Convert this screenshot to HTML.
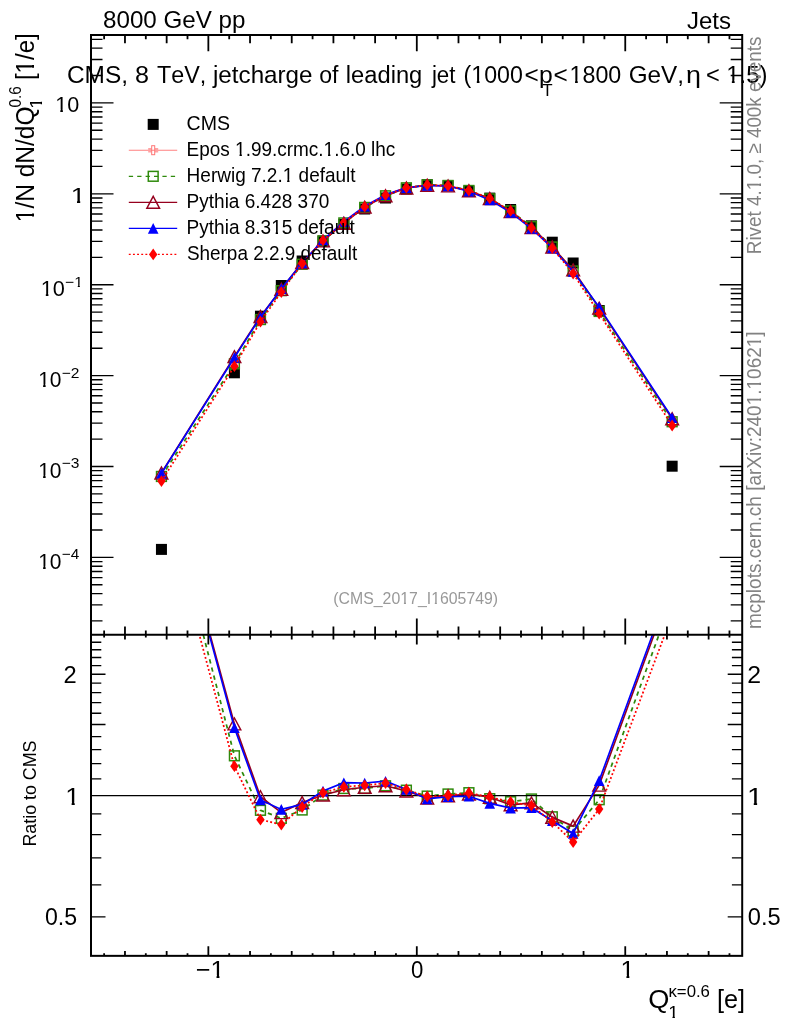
<!DOCTYPE html>
<html><head><meta charset="utf-8"><title>plot</title><style>html,body{margin:0;padding:0;background:#fff}svg{display:block;will-change:transform}text{font-kerning:none}</style></head><body>
<svg width="786" height="1024" viewBox="0 0 786 1024" font-family="'Liberation Sans', sans-serif">
<rect width="786" height="1024" fill="#fff"/>
<defs><clipPath id="cm"><rect x="91" y="35" width="651.2" height="599.8"/></clipPath><clipPath id="cr"><rect x="91" y="634.8" width="651.2" height="321.05"/></clipPath><clipPath id="k0"><path d="M-1 -24.4H24.4V-2.83H8.62V2H5.77V-2.83H-1Z"/></clipPath><clipPath id="k1"><path d="M-1 -19.5H19.5V-2.46H6.96V2H4.54V-2.46H-1Z"/></clipPath><clipPath id="k2"><path d="M-1 -22H22V-2.65H7.81V2H5.17V-2.65H-1Z"/></clipPath><clipPath id="k3"><path d="M-1 -14.7H14.7V-2.1H5.33V2H3.34V-2.1H-1Z"/></clipPath><clipPath id="k4"><path d="M-1 -23.6H23.6V-2.77H8.35V2H5.57V-2.77H-1Z"/></clipPath><clipPath id="k5"><path d="M-1 -24.5H24.5V-2.84H8.66V2H5.8V-2.84H-1Z"/></clipPath><clipPath id="k6"><path d="M-1 -16.2H16.2V-2.21H5.84V2H3.72V-2.21H-1Z"/></clipPath><clipPath id="k7"><path d="M-1 -20.2H20.2V-2.51H7.2V2H4.72V-2.51H-1Z"/></clipPath><clipPath id="k8"><path d="M-1 -25.6H25.6V-2.92H9.03V2H6.08V-2.92H-1Z"/></clipPath><clipPath id="k9"><path d="M-1 -15.6H15.6V-2.17H5.64V2H3.57V-2.17H-1Z"/></clipPath><clipPath id="k10"><path d="M-1 -16H16V-2.2H5.77V2H3.67V-2.2H-1Z"/></clipPath></defs>
<g clip-path="url(#cm)">
<rect x="155.95" y="543.9" width="11" height="11" fill="#000"/>
<rect x="228.91" y="367.3" width="11" height="11" fill="#000"/>
<rect x="254.96" y="310.7" width="11" height="11" fill="#000"/>
<rect x="275.81" y="280" width="11" height="11" fill="#000"/>
<rect x="296.65" y="255.5" width="11" height="11" fill="#000"/>
<rect x="317.5" y="235.5" width="11" height="11" fill="#000"/>
<rect x="338.34" y="219" width="11" height="11" fill="#000"/>
<rect x="359.19" y="203.5" width="11" height="11" fill="#000"/>
<rect x="380.03" y="192.5" width="11" height="11" fill="#000"/>
<rect x="400.88" y="183.5" width="11" height="11" fill="#000"/>
<rect x="421.72" y="179.2" width="11" height="11" fill="#000"/>
<rect x="442.57" y="180.3" width="11" height="11" fill="#000"/>
<rect x="463.41" y="185.6" width="11" height="11" fill="#000"/>
<rect x="484.26" y="192.6" width="11" height="11" fill="#000"/>
<rect x="505.1" y="204" width="11" height="11" fill="#000"/>
<rect x="525.95" y="220.3" width="11" height="11" fill="#000"/>
<rect x="546.79" y="236.7" width="11" height="11" fill="#000"/>
<rect x="567.64" y="257.5" width="11" height="11" fill="#000"/>
<rect x="593.69" y="305" width="11" height="11" fill="#000"/>
<rect x="666.65" y="460.7" width="11" height="11" fill="#000"/>
<path d="M161.45 476.47L234.41 363.84L260.46 319.54L281.31 290.64L302.15 264.27L323 240.91L343.84 222.92L364.69 207.42L385.53 195.81L406.38 187.8L427.22 184.84L448.07 185.46L468.91 190.47L489.76 198.82L510.6 210.9L531.45 226.59L552.29 247L573.14 271.01L599.19 311.45L672.15 421.74" fill="none" stroke="#2f8a0c" stroke-width="1.75" stroke-dasharray="4.3 4.1"/>
<rect x="156.55" y="471.57" width="9.8" height="9.8" fill="none" stroke="#2f8a0c" stroke-width="1.5"/>
<rect x="229.51" y="358.94" width="9.8" height="9.8" fill="none" stroke="#2f8a0c" stroke-width="1.5"/>
<rect x="255.56" y="314.64" width="9.8" height="9.8" fill="none" stroke="#2f8a0c" stroke-width="1.5"/>
<rect x="276.41" y="285.74" width="9.8" height="9.8" fill="none" stroke="#2f8a0c" stroke-width="1.5"/>
<rect x="297.25" y="259.37" width="9.8" height="9.8" fill="none" stroke="#2f8a0c" stroke-width="1.5"/>
<rect x="318.1" y="236.01" width="9.8" height="9.8" fill="none" stroke="#2f8a0c" stroke-width="1.5"/>
<rect x="338.94" y="218.02" width="9.8" height="9.8" fill="none" stroke="#2f8a0c" stroke-width="1.5"/>
<rect x="359.79" y="202.52" width="9.8" height="9.8" fill="none" stroke="#2f8a0c" stroke-width="1.5"/>
<rect x="380.63" y="190.91" width="9.8" height="9.8" fill="none" stroke="#2f8a0c" stroke-width="1.5"/>
<rect x="401.48" y="182.9" width="9.8" height="9.8" fill="none" stroke="#2f8a0c" stroke-width="1.5"/>
<rect x="422.32" y="179.94" width="9.8" height="9.8" fill="none" stroke="#2f8a0c" stroke-width="1.5"/>
<rect x="443.17" y="180.56" width="9.8" height="9.8" fill="none" stroke="#2f8a0c" stroke-width="1.5"/>
<rect x="464.01" y="185.57" width="9.8" height="9.8" fill="none" stroke="#2f8a0c" stroke-width="1.5"/>
<rect x="484.86" y="193.92" width="9.8" height="9.8" fill="none" stroke="#2f8a0c" stroke-width="1.5"/>
<rect x="505.7" y="206" width="9.8" height="9.8" fill="none" stroke="#2f8a0c" stroke-width="1.5"/>
<rect x="526.55" y="221.69" width="9.8" height="9.8" fill="none" stroke="#2f8a0c" stroke-width="1.5"/>
<rect x="547.39" y="242.1" width="9.8" height="9.8" fill="none" stroke="#2f8a0c" stroke-width="1.5"/>
<rect x="568.24" y="266.11" width="9.8" height="9.8" fill="none" stroke="#2f8a0c" stroke-width="1.5"/>
<rect x="594.29" y="306.55" width="9.8" height="9.8" fill="none" stroke="#2f8a0c" stroke-width="1.5"/>
<rect x="667.25" y="416.84" width="9.8" height="9.8" fill="none" stroke="#2f8a0c" stroke-width="1.5"/>
<path d="M161.45 472.95L234.41 356.65L260.46 316.47L281.31 289.36L302.15 262.6L323 240.89L343.84 223.21L364.69 207.15L385.53 195.81L406.38 187.98L427.22 185.29L448.07 185.87L468.91 190.76L489.76 198.51L510.6 211.6L531.45 227.47L552.29 247.1L573.14 269.9L599.19 308.15L672.15 418.71" fill="none" stroke="#96001e" stroke-width="1.65"/>
<path d="M155.05 478.95L161.45 466.95L167.85 478.95Z" fill="none" stroke="#96001e" stroke-width="1.4"/>
<path d="M228.01 362.65L234.41 350.65L240.81 362.65Z" fill="none" stroke="#96001e" stroke-width="1.4"/>
<path d="M254.06 322.47L260.46 310.47L266.86 322.47Z" fill="none" stroke="#96001e" stroke-width="1.4"/>
<path d="M274.91 295.36L281.31 283.36L287.71 295.36Z" fill="none" stroke="#96001e" stroke-width="1.4"/>
<path d="M295.75 268.6L302.15 256.6L308.55 268.6Z" fill="none" stroke="#96001e" stroke-width="1.4"/>
<path d="M316.6 246.89L323 234.89L329.4 246.89Z" fill="none" stroke="#96001e" stroke-width="1.4"/>
<path d="M337.44 229.21L343.84 217.21L350.24 229.21Z" fill="none" stroke="#96001e" stroke-width="1.4"/>
<path d="M358.29 213.15L364.69 201.15L371.09 213.15Z" fill="none" stroke="#96001e" stroke-width="1.4"/>
<path d="M379.13 201.81L385.53 189.81L391.93 201.81Z" fill="none" stroke="#96001e" stroke-width="1.4"/>
<path d="M399.98 193.98L406.38 181.98L412.78 193.98Z" fill="none" stroke="#96001e" stroke-width="1.4"/>
<path d="M420.82 191.29L427.22 179.29L433.62 191.29Z" fill="none" stroke="#96001e" stroke-width="1.4"/>
<path d="M441.67 191.87L448.07 179.87L454.47 191.87Z" fill="none" stroke="#96001e" stroke-width="1.4"/>
<path d="M462.51 196.76L468.91 184.76L475.31 196.76Z" fill="none" stroke="#96001e" stroke-width="1.4"/>
<path d="M483.36 204.51L489.76 192.51L496.16 204.51Z" fill="none" stroke="#96001e" stroke-width="1.4"/>
<path d="M504.2 217.6L510.6 205.6L517 217.6Z" fill="none" stroke="#96001e" stroke-width="1.4"/>
<path d="M525.05 233.47L531.45 221.47L537.85 233.47Z" fill="none" stroke="#96001e" stroke-width="1.4"/>
<path d="M545.89 253.1L552.29 241.1L558.69 253.1Z" fill="none" stroke="#96001e" stroke-width="1.4"/>
<path d="M566.74 275.9L573.14 263.9L579.54 275.9Z" fill="none" stroke="#96001e" stroke-width="1.4"/>
<path d="M592.79 314.15L599.19 302.15L605.59 314.15Z" fill="none" stroke="#96001e" stroke-width="1.4"/>
<path d="M665.75 424.71L672.15 412.71L678.55 424.71Z" fill="none" stroke="#96001e" stroke-width="1.4"/>
<path d="M161.45 473.2L234.41 357.53L260.46 317.19L281.31 288.64L302.15 263.01L323 240.01L343.84 221.61L364.69 206.18L385.53 194.77L406.38 187.65L427.22 185.47L448.07 186.05L468.91 191.28L489.76 199.88L510.6 212.34L531.45 228.55L552.29 247.88L573.14 271.57L599.19 307.14L672.15 417.79" fill="none" stroke="#0000ff" stroke-width="1.65"/>
<path d="M156.15 478.5L161.45 467.9L166.75 478.5Z" fill="#0000ff"/>
<path d="M229.11 362.83L234.41 352.23L239.71 362.83Z" fill="#0000ff"/>
<path d="M255.16 322.49L260.46 311.89L265.76 322.49Z" fill="#0000ff"/>
<path d="M276.01 293.94L281.31 283.34L286.61 293.94Z" fill="#0000ff"/>
<path d="M296.85 268.31L302.15 257.71L307.45 268.31Z" fill="#0000ff"/>
<path d="M317.7 245.31L323 234.71L328.3 245.31Z" fill="#0000ff"/>
<path d="M338.54 226.91L343.84 216.31L349.14 226.91Z" fill="#0000ff"/>
<path d="M359.39 211.48L364.69 200.88L369.99 211.48Z" fill="#0000ff"/>
<path d="M380.23 200.07L385.53 189.47L390.83 200.07Z" fill="#0000ff"/>
<path d="M401.08 192.95L406.38 182.35L411.68 192.95Z" fill="#0000ff"/>
<path d="M421.92 190.77L427.22 180.17L432.52 190.77Z" fill="#0000ff"/>
<path d="M442.77 191.35L448.07 180.75L453.37 191.35Z" fill="#0000ff"/>
<path d="M463.61 196.58L468.91 185.98L474.21 196.58Z" fill="#0000ff"/>
<path d="M484.46 205.18L489.76 194.58L495.06 205.18Z" fill="#0000ff"/>
<path d="M505.3 217.64L510.6 207.04L515.9 217.64Z" fill="#0000ff"/>
<path d="M526.15 233.85L531.45 223.25L536.75 233.85Z" fill="#0000ff"/>
<path d="M546.99 253.18L552.29 242.58L557.59 253.18Z" fill="#0000ff"/>
<path d="M567.84 276.87L573.14 266.27L578.44 276.87Z" fill="#0000ff"/>
<path d="M593.89 312.44L599.19 301.84L604.49 312.44Z" fill="#0000ff"/>
<path d="M666.85 423.09L672.15 412.49L677.45 423.09Z" fill="#0000ff"/>
<path d="M161.45 481.05L234.41 366.19L260.46 321.66L281.31 292.04L302.15 263.59L323 240.37L343.84 222.56L364.69 206.7L385.53 195.2L406.38 187.65L427.22 184.95L448.07 185.8L468.91 190.54L489.76 198.44L510.6 210.97L531.45 228.08L552.29 248.18L573.14 273.51L599.19 313.57L672.15 425.5" fill="none" stroke="#ff0000" stroke-width="1.75" stroke-dasharray="1.9 2.25"/>
<path d="M157.25 481.05L161.45 475.15L165.65 481.05L161.45 486.95Z" fill="#ff0000"/>
<path d="M230.21 366.19L234.41 360.29L238.61 366.19L234.41 372.09Z" fill="#ff0000"/>
<path d="M256.26 321.66L260.46 315.76L264.66 321.66L260.46 327.56Z" fill="#ff0000"/>
<path d="M277.11 292.04L281.31 286.14L285.51 292.04L281.31 297.94Z" fill="#ff0000"/>
<path d="M297.95 263.59L302.15 257.69L306.35 263.59L302.15 269.49Z" fill="#ff0000"/>
<path d="M318.8 240.37L323 234.47L327.2 240.37L323 246.27Z" fill="#ff0000"/>
<path d="M339.64 222.56L343.84 216.66L348.04 222.56L343.84 228.46Z" fill="#ff0000"/>
<path d="M360.49 206.7L364.69 200.8L368.89 206.7L364.69 212.6Z" fill="#ff0000"/>
<path d="M381.33 195.2L385.53 189.3L389.73 195.2L385.53 201.1Z" fill="#ff0000"/>
<path d="M402.18 187.65L406.38 181.75L410.58 187.65L406.38 193.55Z" fill="#ff0000"/>
<path d="M423.02 184.95L427.22 179.05L431.42 184.95L427.22 190.85Z" fill="#ff0000"/>
<path d="M443.87 185.8L448.07 179.9L452.27 185.8L448.07 191.7Z" fill="#ff0000"/>
<path d="M464.71 190.54L468.91 184.64L473.11 190.54L468.91 196.44Z" fill="#ff0000"/>
<path d="M485.56 198.44L489.76 192.54L493.96 198.44L489.76 204.34Z" fill="#ff0000"/>
<path d="M506.4 210.97L510.6 205.07L514.8 210.97L510.6 216.87Z" fill="#ff0000"/>
<path d="M527.25 228.08L531.45 222.18L535.65 228.08L531.45 233.98Z" fill="#ff0000"/>
<path d="M548.09 248.18L552.29 242.28L556.49 248.18L552.29 254.08Z" fill="#ff0000"/>
<path d="M568.94 273.51L573.14 267.61L577.34 273.51L573.14 279.41Z" fill="#ff0000"/>
<path d="M594.99 313.57L599.19 307.67L603.39 313.57L599.19 319.47Z" fill="#ff0000"/>
<path d="M667.95 425.5L672.15 419.6L676.35 425.5L672.15 431.4Z" fill="#ff0000"/>
</g>
<g clip-path="url(#cr)">
<path d="M161.45 472.2L234.41 755.8L260.46 810.3L281.31 818.3L302.15 810L323 795.1L343.84 788.5L364.69 788.5L385.53 785.8L406.38 790.2L427.22 796.1L448.07 794L468.91 792.7L489.76 798.7L510.6 801.7L531.45 799L552.29 816.8L573.14 831L599.19 799.7L672.15 598.4" fill="none" stroke="#2f8a0c" stroke-width="1.75" stroke-dasharray="4.3 4.1"/>
<rect x="229.51" y="750.9" width="9.8" height="9.8" fill="none" stroke="#2f8a0c" stroke-width="1.5"/>
<rect x="255.56" y="805.4" width="9.8" height="9.8" fill="none" stroke="#2f8a0c" stroke-width="1.5"/>
<rect x="276.41" y="813.4" width="9.8" height="9.8" fill="none" stroke="#2f8a0c" stroke-width="1.5"/>
<rect x="297.25" y="805.1" width="9.8" height="9.8" fill="none" stroke="#2f8a0c" stroke-width="1.5"/>
<rect x="318.1" y="790.2" width="9.8" height="9.8" fill="none" stroke="#2f8a0c" stroke-width="1.5"/>
<rect x="338.94" y="783.6" width="9.8" height="9.8" fill="none" stroke="#2f8a0c" stroke-width="1.5"/>
<rect x="359.79" y="783.6" width="9.8" height="9.8" fill="none" stroke="#2f8a0c" stroke-width="1.5"/>
<rect x="380.63" y="780.9" width="9.8" height="9.8" fill="none" stroke="#2f8a0c" stroke-width="1.5"/>
<rect x="401.48" y="785.3" width="9.8" height="9.8" fill="none" stroke="#2f8a0c" stroke-width="1.5"/>
<rect x="422.32" y="791.2" width="9.8" height="9.8" fill="none" stroke="#2f8a0c" stroke-width="1.5"/>
<rect x="443.17" y="789.1" width="9.8" height="9.8" fill="none" stroke="#2f8a0c" stroke-width="1.5"/>
<rect x="464.01" y="787.8" width="9.8" height="9.8" fill="none" stroke="#2f8a0c" stroke-width="1.5"/>
<rect x="484.86" y="793.8" width="9.8" height="9.8" fill="none" stroke="#2f8a0c" stroke-width="1.5"/>
<rect x="505.7" y="796.8" width="9.8" height="9.8" fill="none" stroke="#2f8a0c" stroke-width="1.5"/>
<rect x="526.55" y="794.1" width="9.8" height="9.8" fill="none" stroke="#2f8a0c" stroke-width="1.5"/>
<rect x="547.39" y="811.9" width="9.8" height="9.8" fill="none" stroke="#2f8a0c" stroke-width="1.5"/>
<rect x="568.24" y="826.1" width="9.8" height="9.8" fill="none" stroke="#2f8a0c" stroke-width="1.5"/>
<rect x="594.29" y="794.8" width="9.8" height="9.8" fill="none" stroke="#2f8a0c" stroke-width="1.5"/>
<path d="M91 795.5H742.2" stroke="#000" stroke-width="1.25"/>
<path d="M161.45 456.6L234.41 723.9L260.46 796.7L281.31 812.6L302.15 802.6L323 795L343.84 789.8L364.69 787.3L385.53 785.8L406.38 791L427.22 798.1L448.07 795.8L468.91 794L489.76 797.3L510.6 804.8L531.45 802.9L552.29 817.2L573.14 826.1L599.19 785.1L672.15 585" fill="none" stroke="#96001e" stroke-width="1.65"/>
<path d="M228.01 729.9L234.41 717.9L240.81 729.9Z" fill="none" stroke="#96001e" stroke-width="1.4"/>
<path d="M254.06 802.7L260.46 790.7L266.86 802.7Z" fill="none" stroke="#96001e" stroke-width="1.4"/>
<path d="M274.91 818.6L281.31 806.6L287.71 818.6Z" fill="none" stroke="#96001e" stroke-width="1.4"/>
<path d="M295.75 808.6L302.15 796.6L308.55 808.6Z" fill="none" stroke="#96001e" stroke-width="1.4"/>
<path d="M316.6 801L323 789L329.4 801Z" fill="none" stroke="#96001e" stroke-width="1.4"/>
<path d="M337.44 795.8L343.84 783.8L350.24 795.8Z" fill="none" stroke="#96001e" stroke-width="1.4"/>
<path d="M358.29 793.3L364.69 781.3L371.09 793.3Z" fill="none" stroke="#96001e" stroke-width="1.4"/>
<path d="M379.13 791.8L385.53 779.8L391.93 791.8Z" fill="none" stroke="#96001e" stroke-width="1.4"/>
<path d="M399.98 797L406.38 785L412.78 797Z" fill="none" stroke="#96001e" stroke-width="1.4"/>
<path d="M420.82 804.1L427.22 792.1L433.62 804.1Z" fill="none" stroke="#96001e" stroke-width="1.4"/>
<path d="M441.67 801.8L448.07 789.8L454.47 801.8Z" fill="none" stroke="#96001e" stroke-width="1.4"/>
<path d="M462.51 800L468.91 788L475.31 800Z" fill="none" stroke="#96001e" stroke-width="1.4"/>
<path d="M483.36 803.3L489.76 791.3L496.16 803.3Z" fill="none" stroke="#96001e" stroke-width="1.4"/>
<path d="M504.2 810.8L510.6 798.8L517 810.8Z" fill="none" stroke="#96001e" stroke-width="1.4"/>
<path d="M525.05 808.9L531.45 796.9L537.85 808.9Z" fill="none" stroke="#96001e" stroke-width="1.4"/>
<path d="M545.89 823.2L552.29 811.2L558.69 823.2Z" fill="none" stroke="#96001e" stroke-width="1.4"/>
<path d="M566.74 832.1L573.14 820.1L579.54 832.1Z" fill="none" stroke="#96001e" stroke-width="1.4"/>
<path d="M592.79 791.1L599.19 779.1L605.59 791.1Z" fill="none" stroke="#96001e" stroke-width="1.4"/>
<path d="M161.45 457.7L234.41 727.8L260.46 799.9L281.31 809.4L302.15 804.4L323 791.1L343.84 782.7L364.69 783L385.53 781.2L406.38 789.5L427.22 798.9L448.07 796.6L468.91 796.3L489.76 803.4L510.6 808.1L531.45 807.7L552.29 820.7L573.14 833.5L599.19 780.6L672.15 580.9" fill="none" stroke="#0000ff" stroke-width="1.65"/>
<path d="M229.11 733.1L234.41 722.5L239.71 733.1Z" fill="#0000ff"/>
<path d="M255.16 805.2L260.46 794.6L265.76 805.2Z" fill="#0000ff"/>
<path d="M276.01 814.7L281.31 804.1L286.61 814.7Z" fill="#0000ff"/>
<path d="M296.85 809.7L302.15 799.1L307.45 809.7Z" fill="#0000ff"/>
<path d="M317.7 796.4L323 785.8L328.3 796.4Z" fill="#0000ff"/>
<path d="M338.54 788L343.84 777.4L349.14 788Z" fill="#0000ff"/>
<path d="M359.39 788.3L364.69 777.7L369.99 788.3Z" fill="#0000ff"/>
<path d="M380.23 786.5L385.53 775.9L390.83 786.5Z" fill="#0000ff"/>
<path d="M401.08 794.8L406.38 784.2L411.68 794.8Z" fill="#0000ff"/>
<path d="M421.92 804.2L427.22 793.6L432.52 804.2Z" fill="#0000ff"/>
<path d="M442.77 801.9L448.07 791.3L453.37 801.9Z" fill="#0000ff"/>
<path d="M463.61 801.6L468.91 791L474.21 801.6Z" fill="#0000ff"/>
<path d="M484.46 808.7L489.76 798.1L495.06 808.7Z" fill="#0000ff"/>
<path d="M505.3 813.4L510.6 802.8L515.9 813.4Z" fill="#0000ff"/>
<path d="M526.15 813L531.45 802.4L536.75 813Z" fill="#0000ff"/>
<path d="M546.99 826L552.29 815.4L557.59 826Z" fill="#0000ff"/>
<path d="M567.84 838.8L573.14 828.2L578.44 838.8Z" fill="#0000ff"/>
<path d="M593.89 785.9L599.19 775.3L604.49 785.9Z" fill="#0000ff"/>
<path d="M161.45 492.5L234.41 766.2L260.46 819.7L281.31 824.5L302.15 807L323 792.7L343.84 786.9L364.69 785.3L385.53 783.1L406.38 789.5L427.22 796.6L448.07 795.5L468.91 793L489.76 797L510.6 802L531.45 805.6L552.29 822L573.14 842.1L599.19 809.1L672.15 615.1" fill="none" stroke="#ff0000" stroke-width="1.75" stroke-dasharray="1.9 2.25"/>
<path d="M230.21 766.2L234.41 760.3L238.61 766.2L234.41 772.1Z" fill="#ff0000"/>
<path d="M256.26 819.7L260.46 813.8L264.66 819.7L260.46 825.6Z" fill="#ff0000"/>
<path d="M277.11 824.5L281.31 818.6L285.51 824.5L281.31 830.4Z" fill="#ff0000"/>
<path d="M297.95 807L302.15 801.1L306.35 807L302.15 812.9Z" fill="#ff0000"/>
<path d="M318.8 792.7L323 786.8L327.2 792.7L323 798.6Z" fill="#ff0000"/>
<path d="M339.64 786.9L343.84 781L348.04 786.9L343.84 792.8Z" fill="#ff0000"/>
<path d="M360.49 785.3L364.69 779.4L368.89 785.3L364.69 791.2Z" fill="#ff0000"/>
<path d="M381.33 783.1L385.53 777.2L389.73 783.1L385.53 789Z" fill="#ff0000"/>
<path d="M402.18 789.5L406.38 783.6L410.58 789.5L406.38 795.4Z" fill="#ff0000"/>
<path d="M423.02 796.6L427.22 790.7L431.42 796.6L427.22 802.5Z" fill="#ff0000"/>
<path d="M443.87 795.5L448.07 789.6L452.27 795.5L448.07 801.4Z" fill="#ff0000"/>
<path d="M464.71 793L468.91 787.1L473.11 793L468.91 798.9Z" fill="#ff0000"/>
<path d="M485.56 797L489.76 791.1L493.96 797L489.76 802.9Z" fill="#ff0000"/>
<path d="M506.4 802L510.6 796.1L514.8 802L510.6 807.9Z" fill="#ff0000"/>
<path d="M527.25 805.6L531.45 799.7L535.65 805.6L531.45 811.5Z" fill="#ff0000"/>
<path d="M548.09 822L552.29 816.1L556.49 822L552.29 827.9Z" fill="#ff0000"/>
<path d="M568.94 842.1L573.14 836.2L577.34 842.1L573.14 848Z" fill="#ff0000"/>
<path d="M594.99 809.1L599.19 803.2L603.39 809.1L599.19 815Z" fill="#ff0000"/>
</g>
<path d="M91 620.94H102.5M730.7 620.94H742.2M91 604.93H102.5M730.7 604.93H742.2M91 593.57H102.5M730.7 593.57H742.2M91 584.76H102.5M730.7 584.76H742.2M91 577.57H102.5M730.7 577.57H742.2M91 571.48H102.5M730.7 571.48H742.2M91 566.21H102.5M730.7 566.21H742.2M91 561.56H102.5M730.7 561.56H742.2M91 557.4H113.5M719.7 557.4H742.2M91 530.04H102.5M730.7 530.04H742.2M91 514.03H102.5M730.7 514.03H742.2M91 502.67H102.5M730.7 502.67H742.2M91 493.86H102.5M730.7 493.86H742.2M91 486.67H102.5M730.7 486.67H742.2M91 480.58H102.5M730.7 480.58H742.2M91 475.31H102.5M730.7 475.31H742.2M91 470.66H102.5M730.7 470.66H742.2M91 466.5H113.5M719.7 466.5H742.2M91 439.14H102.5M730.7 439.14H742.2M91 423.13H102.5M730.7 423.13H742.2M91 411.77H102.5M730.7 411.77H742.2M91 402.96H102.5M730.7 402.96H742.2M91 395.77H102.5M730.7 395.77H742.2M91 389.68H102.5M730.7 389.68H742.2M91 384.41H102.5M730.7 384.41H742.2M91 379.76H102.5M730.7 379.76H742.2M91 375.6H113.5M719.7 375.6H742.2M91 348.24H102.5M730.7 348.24H742.2M91 332.23H102.5M730.7 332.23H742.2M91 320.87H102.5M730.7 320.87H742.2M91 312.06H102.5M730.7 312.06H742.2M91 304.87H102.5M730.7 304.87H742.2M91 298.78H102.5M730.7 298.78H742.2M91 293.51H102.5M730.7 293.51H742.2M91 288.86H102.5M730.7 288.86H742.2M91 284.7H113.5M719.7 284.7H742.2M91 257.34H102.5M730.7 257.34H742.2M91 241.33H102.5M730.7 241.33H742.2M91 229.97H102.5M730.7 229.97H742.2M91 221.16H102.5M730.7 221.16H742.2M91 213.97H102.5M730.7 213.97H742.2M91 207.88H102.5M730.7 207.88H742.2M91 202.61H102.5M730.7 202.61H742.2M91 197.96H102.5M730.7 197.96H742.2M91 193.8H113.5M719.7 193.8H742.2M91 166.44H102.5M730.7 166.44H742.2M91 150.43H102.5M730.7 150.43H742.2M91 139.07H102.5M730.7 139.07H742.2M91 130.26H102.5M730.7 130.26H742.2M91 123.07H102.5M730.7 123.07H742.2M91 116.98H102.5M730.7 116.98H742.2M91 111.71H102.5M730.7 111.71H742.2M91 107.06H102.5M730.7 107.06H742.2M91 102.9H113.5M719.7 102.9H742.2M91 75.54H102.5M730.7 75.54H742.2M91 59.53H102.5M730.7 59.53H742.2M91 48.17H102.5M730.7 48.17H742.2M91 39.36H102.5M730.7 39.36H742.2M91 916.8H105.5M727.7 916.8H742.2M91 884.89H101.3M731.9 884.89H742.2M91 857.92H101.3M731.9 857.92H742.2M91 834.55H101.3M731.9 834.55H742.2M91 813.94H101.3M731.9 813.94H742.2M91 778.82H101.3M731.9 778.82H742.2M91 763.59H101.3M731.9 763.59H742.2M91 749.59H101.3M731.9 749.59H742.2M91 736.62H101.3M731.9 736.62H742.2M91 724.54H105.5M727.7 724.54H742.2M91 713.25H101.3M731.9 713.25H742.2M91 702.64H101.3M731.9 702.64H742.2M91 692.64H101.3M731.9 692.64H742.2M91 683.18H101.3M731.9 683.18H742.2M91 674.2H105.5M727.7 674.2H742.2M91 665.66H101.3M731.9 665.66H742.2M91 657.52H101.3M731.9 657.52H742.2M91 649.74H101.3M731.9 649.74H742.2M91 642.29H101.3M731.9 642.29H742.2" stroke="#000" stroke-width="1.35" fill="none"/>
<path d="M104.13 35V39.3M104.13 630.5V637.4M104.13 953.25V955.85M124.97 35V43.3M124.97 626.5V639.6M124.97 951.05V955.85M145.81 35V39.3M145.81 630.5V637.4M145.81 953.25V955.85M166.66 35V43.3M166.66 626.5V639.6M166.66 951.05V955.85M187.5 35V39.3M187.5 630.5V637.4M187.5 953.25V955.85M208.35 35V51.3M208.35 618.5V644.5M208.35 946.15V955.85M229.2 35V39.3M229.2 630.5V637.4M229.2 953.25V955.85M250.04 35V43.3M250.04 626.5V639.6M250.04 951.05V955.85M270.88 35V39.3M270.88 630.5V637.4M270.88 953.25V955.85M291.73 35V43.3M291.73 626.5V639.6M291.73 951.05V955.85M312.58 35V39.3M312.58 630.5V637.4M312.58 953.25V955.85M333.42 35V43.3M333.42 626.5V639.6M333.42 951.05V955.85M354.26 35V39.3M354.26 630.5V637.4M354.26 953.25V955.85M375.11 35V43.3M375.11 626.5V639.6M375.11 951.05V955.85M395.96 35V39.3M395.96 630.5V637.4M395.96 953.25V955.85M416.8 35V51.3M416.8 618.5V644.5M416.8 946.15V955.85M437.64 35V39.3M437.64 630.5V637.4M437.64 953.25V955.85M458.49 35V43.3M458.49 626.5V639.6M458.49 951.05V955.85M479.34 35V39.3M479.34 630.5V637.4M479.34 953.25V955.85M500.18 35V43.3M500.18 626.5V639.6M500.18 951.05V955.85M521.02 35V39.3M521.02 630.5V637.4M521.02 953.25V955.85M541.87 35V43.3M541.87 626.5V639.6M541.87 951.05V955.85M562.72 35V39.3M562.72 630.5V637.4M562.72 953.25V955.85M583.56 35V43.3M583.56 626.5V639.6M583.56 951.05V955.85M604.4 35V39.3M604.4 630.5V637.4M604.4 953.25V955.85M625.25 35V51.3M625.25 618.5V644.5M625.25 946.15V955.85M646.1 35V39.3M646.1 630.5V637.4M646.1 953.25V955.85M666.94 35V43.3M666.94 626.5V639.6M666.94 951.05V955.85M687.79 35V39.3M687.79 630.5V637.4M687.79 953.25V955.85M708.63 35V43.3M708.63 626.5V639.6M708.63 951.05V955.85M729.47 35V39.3M729.47 630.5V637.4M729.47 953.25V955.85" stroke="#000" stroke-width="1.8" fill="none"/>
<rect x="91" y="35" width="651.2" height="920.85" fill="none" stroke="#000" stroke-width="2"/>
<path d="M91 634.8H742.2" stroke="#000" stroke-width="2"/>
<g transform="translate(102.99,27.8) scale(1.0081,1)" font-size="24"><text x="0">8000 GeV pp</text></g>
<g transform="translate(686.92,28.7) scale(1.0002,1)" font-size="24"><text x="0">Jets</text></g>
<g transform="translate(66.95,82.5) scale(1.0011,1)" font-size="24.4"><text x="0">CMS,</text></g>
<g transform="translate(134.91,82.5) scale(1.0323,1)" font-size="24.4"><text x="0">8</text></g>
<g transform="translate(156.94,82.5) scale(0.9569,1)" font-size="24.4"><text x="0">TeV,</text></g>
<g transform="translate(212.96,82.5) scale(0.9925,1)" font-size="24.4"><text x="0">jetcharge</text></g>
<g transform="translate(319.18,82.5) scale(0.9456,1)" font-size="24.4"><text x="0">of</text></g>
<g transform="translate(345.82,82.5) scale(0.9723,1)" font-size="24.4"><text x="0">leading</text></g>
<g transform="translate(431.9,82.5) scale(0.9167,1)" font-size="24.4"><text x="0">jet</text></g>
<g transform="translate(463.61,82.5) scale(0.9496,1)" font-size="24.4"><text x="0">(</text><g transform="translate(8.13,0)"><text clip-path="url(#k0)">1</text></g><text x="21.7">000</text></g>
<g transform="translate(524.56,82.5)" font-size="24.4"><text x="0">&lt;</text></g>
<g transform="translate(539.06,82.5) scale(1.0130,1)" font-size="24.4"><text x="0">p</text></g>
<g transform="translate(553.46,82.5)" font-size="24.4"><text x="0">&lt;</text></g>
<g transform="translate(569.57,82.5) scale(0.9527,1)" font-size="24.4"><g transform="translate(0,0)"><text clip-path="url(#k0)">1</text></g><text x="13.57">800</text></g>
<g transform="translate(628.66,82.5) scale(0.9936,1)" font-size="24.4"><text x="0">GeV,</text></g>
<g transform="translate(685.94,82.5) scale(1.1034,1)" font-size="24.4"><text x="0">η</text></g>
<g transform="translate(705.89,82.5) scale(0.9672,1)" font-size="24.4"><text x="0">&lt;</text></g>
<g transform="translate(726.2,82.5) scale(0.9808,1)" font-size="24.4"><g transform="translate(0,0)"><text clip-path="url(#k0)">1</text></g><text x="13.57">.5)</text></g>
<g transform="translate(542.34,95.7) scale(1.0274,1)" font-size="16.5"><text x="0">T</text></g>
<g transform="translate(186.58,129.9) scale(1.0024,1)" font-size="19.5"><text x="0">CMS</text></g>
<g transform="translate(186.62,155.8) scale(0.9724,1)" font-size="19.5"><text x="0">Epos </text><g transform="translate(49.86,0)"><text clip-path="url(#k1)">1</text></g><text x="60.71">.99.crmc.</text><g transform="translate(140.89,0)"><text clip-path="url(#k1)">1</text></g><text x="151.73">.6.0 lhc</text></g>
<g transform="translate(186.62,181.75) scale(0.9745,1)" font-size="19.5"><text x="0">Herwig 7.2.</text><g transform="translate(98.62,0)"><text clip-path="url(#k1)">1</text></g><text x="114.89">default</text></g>
<g transform="translate(186.61,207.7) scale(0.9754,1)" font-size="19.5"><text x="0">Pythia 6.428 370</text></g>
<g transform="translate(186.61,233.65) scale(0.9759,1)" font-size="19.5"><text x="0">Pythia 8.3</text><g transform="translate(86.72,0)"><text clip-path="url(#k1)">1</text></g><text x="97.57">5 default</text></g>
<g transform="translate(186.91,259.6) scale(0.9704,1)" font-size="19.5"><text x="0">Sherpa 2.2.9 default</text></g>
<rect x="147.7" y="118.9" width="11" height="11" fill="#000"/>
<path d="M128.8 150.3H177.2" stroke="#ff8080" stroke-width="1.1"/>
<path d="M148.2 148.1h3.2v4.4h-3.2zM155 148.1h3.2v4.4h-3.2z" fill="#ffa3a3"/><rect x="151.7" y="145.7" width="3" height="9" fill="none" stroke="#ff7676" stroke-width="1"/>
<path d="M128.8 176.3H177.2" stroke="#2f8a0c" stroke-width="1.25" stroke-dasharray="4.3 4.1"/>
<rect x="148.3" y="171.4" width="9.8" height="9.8" fill="none" stroke="#2f8a0c" stroke-width="1.5"/>
<path d="M128.8 202.3H177.2" stroke="#96001e" stroke-width="1.25"/>
<path d="M146.8 208.3L153.2 196.3L159.6 208.3Z" fill="none" stroke="#96001e" stroke-width="1.4"/>
<path d="M128.8 228.4H177.2" stroke="#0000ff" stroke-width="1.25"/>
<path d="M147.9 233.7L153.2 223.1L158.5 233.7Z" fill="#0000ff"/>
<path d="M128.8 254.4H177.2" stroke="#ff0000" stroke-width="1.25" stroke-dasharray="1.9 2.25"/>
<path d="M149 254.4L153.2 248.5L157.4 254.4L153.2 260.3Z" fill="#ff0000"/>
<g transform="translate(55.23,112) scale(0.9812,1)" font-size="22"><g transform="translate(0,0)"><text clip-path="url(#k2)">1</text></g><text x="12.24">0</text></g>
<g transform="translate(70.73,203) scale(1.2151,1)" font-size="22"><g transform="translate(0,0)"><text clip-path="url(#k2)">1</text></g></g>
<g transform="translate(40.72,295.8) scale(0.9857,1)" font-size="22"><g transform="translate(0,0)"><text clip-path="url(#k2)">1</text></g><text x="12.24">0</text></g>
<g transform="translate(65.07,286.6) scale(1.0636,1)" font-size="14.7"><text x="0">−</text><g transform="translate(8.58,0)"><text clip-path="url(#k3)">1</text></g></g>
<g transform="translate(38.19,386.7) scale(0.9537,1)" font-size="22"><g transform="translate(0,0)"><text clip-path="url(#k2)">1</text></g><text x="12.24">0</text></g>
<g transform="translate(61.67,377.5) scale(1.0598,1)" font-size="14.7"><text x="0">−2</text></g>
<g transform="translate(38.19,477.6) scale(0.9537,1)" font-size="22"><g transform="translate(0,0)"><text clip-path="url(#k2)">1</text></g><text x="12.24">0</text></g>
<g transform="translate(61.67,468.4) scale(1.0598,1)" font-size="14.7"><text x="0">−3</text></g>
<g transform="translate(38.19,568.5) scale(0.9537,1)" font-size="22"><g transform="translate(0,0)"><text clip-path="url(#k2)">1</text></g><text x="12.24">0</text></g>
<g transform="translate(61.68,559.3) scale(1.0443,1)" font-size="14.7"><text x="0">−4</text></g>
<g transform="translate(63.59,683) scale(1.0034,1)" font-size="23.6"><text x="0">2</text></g>
<g transform="translate(747.24,683) scale(1.0531,1)" font-size="23.6"><text x="0">2</text></g>
<g transform="translate(65.35,804.9) scale(1.1240,1)" font-size="23.6"><g transform="translate(0,0)"><text clip-path="url(#k4)">1</text></g></g>
<g transform="translate(747.01,804.9) scale(1.2111,1)" font-size="23.6"><g transform="translate(0,0)"><text clip-path="url(#k4)">1</text></g></g>
<g transform="translate(44.98,925.2) scale(0.9803,1)" font-size="23.6"><text x="0">0.5</text></g>
<g transform="translate(747.86,925.2) scale(1.0028,1)" font-size="23.6"><text x="0">0.5</text></g>
<g transform="translate(195.82,977.9) scale(1.0294,1)" font-size="24.5"><text x="0">−</text><g transform="translate(14.31,0)"><text clip-path="url(#k5)">1</text></g></g>
<g transform="translate(411.01,977.9) scale(0.9061,1)" font-size="24.5"><text x="0">0</text></g>
<g transform="translate(620.49,977.9) scale(1.0240,1)" font-size="24.5"><g transform="translate(0,0)"><text clip-path="url(#k5)">1</text></g></g>
<g transform="translate(333.26,604.2) scale(0.9795,1)" font-size="16.2" fill="#999"><text x="0">(CMS_20</text><g transform="translate(68.42,0)"><text clip-path="url(#k6)">1</text></g><text x="77.43">7_I</text><g transform="translate(99.95,0)"><text clip-path="url(#k6)">1</text></g><text x="108.96">605749)</text></g>
<g transform="translate(760.7,252.7) rotate(-90)">
<g transform="translate(-1.47,0) scale(0.9329,1)" font-size="20.2" fill="#828282"><text x="0">Rivet 4.</text><g transform="translate(68.48,0)"><text clip-path="url(#k7)">1</text></g><text x="79.72">.0, ≥ 400k events</text></g>
</g>
<g transform="translate(761.0,627.8) rotate(-90)">
<g transform="translate(-1.19,0) scale(0.9399,1)" font-size="20.2" fill="#828282"><text x="0">mcplots.cern.ch [arXiv:240</text><g transform="translate(238.01,0)"><text clip-path="url(#k7)">1</text></g><text x="249.25">.</text><g transform="translate(254.86,0)"><text clip-path="url(#k7)">1</text></g><text x="266.09">062</text><g transform="translate(299.79,0)"><text clip-path="url(#k7)">1</text></g><text x="311.03">]</text></g>
</g>
<g transform="translate(34.1,219.9) rotate(-90)">
<g transform="translate(-2.35,0) scale(0.9577,1)" font-size="25.6"><g transform="translate(0,0)"><text clip-path="url(#k8)">1</text></g><text x="14.24">/N dN/dQ</text></g>
<g transform="translate(110.83,7.9) scale(1.3182,1)" font-size="15.6"><g transform="translate(0,0)"><text clip-path="url(#k9)">1</text></g></g>
<g transform="translate(112.32,-12.6) scale(0.8908,1)" font-size="17.2"><text x="0">0.6</text></g>
<g transform="translate(139.8,0) scale(0.9400,1)" font-size="25.6"><text x="0">[</text><g transform="translate(7.11,0)"><text clip-path="url(#k8)">1</text></g><text x="21.35">/e]</text></g>
</g>
<g transform="translate(36.4,845.2) rotate(-90)">
<g transform="translate(-1.39,0) scale(0.9546,1)" font-size="18.7"><text x="0">Ratio to CMS</text></g>
</g>
<g transform="translate(648.33,1008) scale(1.0625,1)" font-size="25.6"><text x="0">Q</text></g>
<g transform="translate(668.22,1017.9) scale(1.1567,1)" font-size="16"><g transform="translate(0,0)"><text clip-path="url(#k10)">1</text></g></g>
<g transform="translate(668.45,996.5) scale(1.0173,1)" font-size="16.5"><text x="0">κ=0.6</text></g>
<g transform="translate(716.92,1008) scale(0.9862,1)" font-size="25.6"><text x="0">[e]</text></g>
</svg>
</body></html>
